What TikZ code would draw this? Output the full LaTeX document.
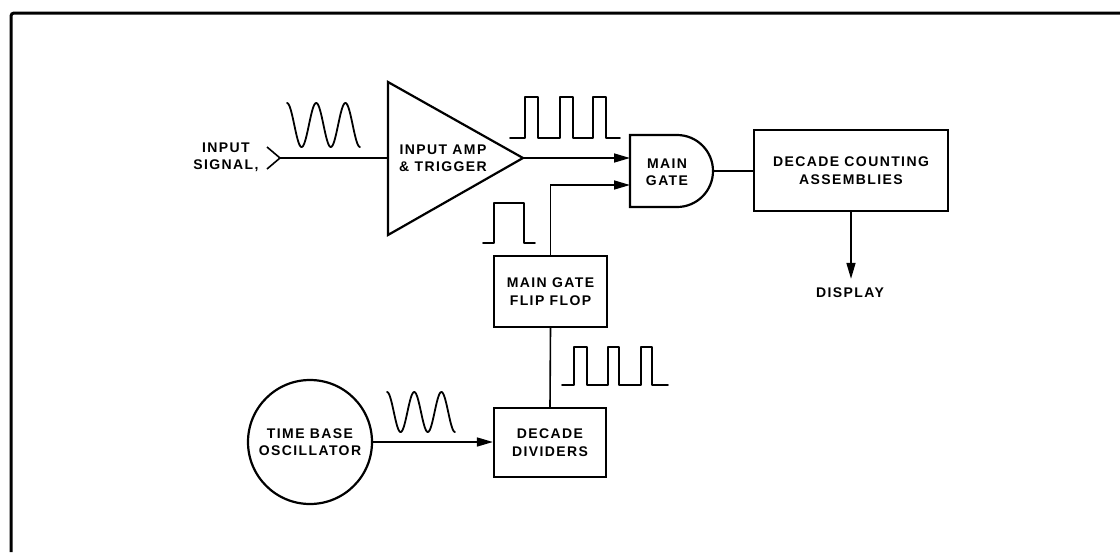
\documentclass[tikz,border=0pt]{standalone}
\usepackage{fontspec}
\setmainfont{Liberation Sans}[LetterSpace=10]
\usetikzlibrary{arrows.meta}
\begin{document}
\begin{tikzpicture}[x=1pt,y=-1pt,
  every node/.style={font=\fontsize{14}{17.5}\selectfont\bfseries, align=center, inner sep=0pt},
  box/.style={draw, line width=2.2pt, rectangle},
  conn/.style={line width=1.6pt},
  arr/.style={conn, -{Triangle[length=16pt,width=9pt]}},
  wave/.style={line width=1.8pt, line join=round, line cap=round}]
\useasboundingbox (0,0) rectangle (1120,552);
% frame
\draw[line width=3pt, rounded corners=3pt] (11,552) -- (11,13) -- (1120,13);

% input
\node (insig) at (226,157.5) {INPUT\\SIGNAL,};
\coordinate (inpt) at (280,158);
\draw[conn] (inpt) +(-13,-11) -- (inpt) -- +(-13,11);

% amplifier triangle
\coordinate (ampA) at (388,82);
\coordinate (ampB) at (388,235);
\coordinate (ampO) at (523,158);
\coordinate (ampI) at (388,158);
\draw[box, line join=miter] (ampA) -- (ampO) -- (ampB) -- cycle;
\node (amp) at (443,158) {INPUT AMP\\\& TRIGGER};
\draw[conn] (inpt) -- (ampI);

% main gate
\draw[box] (630,135) -- (677,135) arc[start angle=-90, end angle=90, radius=36] -- (630,207) -- cycle;
\node (gate) at (667,172) {MAIN\\GATE};
\coordinate (gI1) at (630,158);
\coordinate (gI2) at (630,185);
\coordinate (gO) at (713,171);

% boxes
\node[box, minimum width=194pt, minimum height=81pt] (dca) at (851,170.5) {DECADE COUNTING\\ASSEMBLIES};
\node (display) at (850,293) {DISPLAY};
\node[box, minimum width=113pt, minimum height=71pt] (ff) at (550.5,291.5) {MAIN GATE\\FLIP FLOP};
\node[box, minimum width=112pt, minimum height=69pt] (dd) at (550,442.5) {DECADE\\DIVIDERS};
\node[circle, draw, line width=2.2pt, minimum size=124pt] (osc) at (310,442) {TIME BASE\\OSCILLATOR};

% connectors
\draw[arr] (ampO) -- (gI1);
\draw[arr] (ff.north) -- (ff.north |- gI2) -- (gI2);
\draw[conn] (gO) -- (gO -| dca.west);
\draw[arr, shorten >=9pt] (dca.south) -- (dca.south |- display.north);
\draw[conn] (dd.north) -- (ff.south);
\draw[arr] (osc.east) -- (osc.east -| dd.west);

% waveforms
\draw[wave] plot[domain=0:900, samples=120, variable=\t] ({287+0.08111*\t}, {125-22*cos(\t)});
\draw[wave] plot[domain=0:900, samples=120, variable=\t] ({387+0.07556*\t}, {412-20*cos(\t)});
\draw[wave] (510,138) -- (525,138) -- (525,97) -- (538,97) -- (538,138) -- (560,138) -- (560,97) -- (573,97) -- (573,138) -- (593,138) -- (593,97) -- (606,97) -- (606,138) -- (620,138);
\draw[wave] (483,243) -- (494,243) -- (494,203) -- (524,203) -- (524,243) -- (535,243);
\draw[wave] (562,385) -- (574,385) -- (574,347) -- (587,347) -- (587,385) -- (608,385) -- (608,347) -- (619,347) -- (619,385) -- (641,385) -- (641,347) -- (652,347) -- (652,385) -- (668,385);
\end{tikzpicture}
\end{document}
